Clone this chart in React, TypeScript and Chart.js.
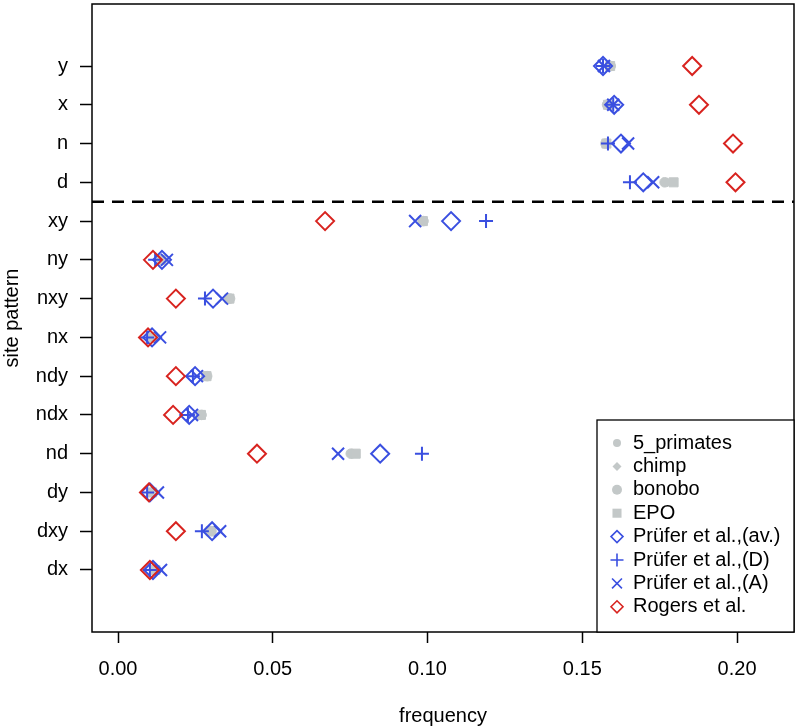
import React, { useEffect, useRef } from "react";
import { Chart, registerables } from "chart.js";

Chart.register(...registerables);

// categories from bottom (position 1) to top (position 14)
const categories = ["dx", "dxy", "dy", "nd", "ndx", "ndy", "nx", "nxy", "ny", "xy", "d", "n", "x", "y"];
const xTickValues = [0, 0.05, 0.1, 0.15, 0.2];
const xLimits = [-0.0084, 0.2184];
const yLimits = [-0.6, 15.6];
const dividerY = 10.5;

const primates5 = [0.0120, 0.0300, 0.0110, 0.0755, 0.0268, 0.0285, 0.0112, 0.0360, 0.0140, 0.0985, 0.1768, 0.1580, 0.1585, 0.1590];
const chimp = [0.0118, 0.0298, 0.0108, 0.0760, 0.0265, 0.0282, 0.0110, 0.0356, 0.0138, 0.0982, 0.1775, 0.1578, 0.1582, 0.1588];
const bonobo = [0.0122, 0.0302, 0.0112, 0.0752, 0.0270, 0.0288, 0.0113, 0.0362, 0.0142, 0.0987, 0.1766, 0.1575, 0.1580, 0.1592];
const epo = [0.0121, 0.0300, 0.0110, 0.0768, 0.0268, 0.0286, 0.0112, 0.0360, 0.0140, 0.0985, 0.1795, 0.1578, 0.1583, 0.1590];
const pruferAv = [0.0113, 0.0304, 0.0103, 0.0847, 0.0230, 0.0249, 0.0110, 0.0307, 0.0142, 0.1076, 0.1697, 0.1625, 0.1603, 0.1567];
const pruferD = [0.0103, 0.0271, 0.0094, 0.0982, 0.0226, 0.0242, 0.0094, 0.0281, 0.0120, 0.1189, 0.1654, 0.1583, 0.1600, 0.1567];
const pruferA = [0.0139, 0.0330, 0.0129, 0.0711, 0.0239, 0.0255, 0.0136, 0.0336, 0.0158, 0.0960, 0.1729, 0.1648, 0.1600, 0.1570];
const rogers = [0.0103, 0.0187, 0.0100, 0.0449, 0.0178, 0.0187, 0.0097, 0.0187, 0.0113, 0.0669, 0.1995, 0.1987, 0.1877, 0.1855];

const legendLabels = ["5_primates", "chimp", "bonobo", "EPO", "Prüfer et al.,(av.)", "Prüfer et al.,(D)", "Prüfer et al.,(A)", "Rogers et al."];

const GRAY = "#c3c8c8";
const BLUE = "#3a4fe0";
const RED = "#d8231f";
const FONT = "'Liberation Sans', Arial, Helvetica, sans-serif";

type Sym = { style: string; color: string; fill: boolean; r: number; lr: number; lw: number };
const symbols: Sym[] = [
  { style: "circle", color: GRAY, fill: true, r: 4, lr: 4, lw: 1 },
  { style: "rectRot", color: GRAY, fill: true, r: 4.5, lr: 4.5, lw: 1 },
  { style: "circle", color: GRAY, fill: true, r: 4.8, lr: 5, lw: 1 },
  { style: "rect", color: GRAY, fill: true, r: 6.4, lr: 6.4, lw: 1 },
  { style: "rectRot", color: BLUE, fill: false, r: 9, lr: 6, lw: 2 },
  { style: "cross", color: BLUE, fill: false, r: 7, lr: 6.5, lw: 2 },
  { style: "crossRot", color: BLUE, fill: false, r: 8.5, lr: 7, lw: 2 },
  { style: "rectRot", color: RED, fill: false, r: 9, lr: 6, lw: 2 },
];
const seriesValues = [primates5, chimp, bonobo, epo, pruferAv, pruferD, pruferA, rogers];
const drawOrder = [7, 6, 5, 4, 3, 2, 1, 0];

function drawSymbol(ctx: CanvasRenderingContext2D, s: Sym, x: number, y: number) {
  const r = s.lr;
  ctx.save();
  ctx.fillStyle = s.color;
  ctx.strokeStyle = s.color;
  ctx.lineWidth = s.fill ? 1 : 1.6;
  ctx.beginPath();
  if (s.style === "circle") {
    ctx.arc(x, y, r, 0, Math.PI * 2);
  } else if (s.style === "rect") {
    const h = r * Math.SQRT1_2;
    ctx.rect(x - h, y - h, 2 * h, 2 * h);
  } else if (s.style === "rectRot") {
    ctx.moveTo(x - r, y);
    ctx.lineTo(x, y - r);
    ctx.lineTo(x + r, y);
    ctx.lineTo(x, y + r);
    ctx.closePath();
  } else if (s.style === "cross") {
    ctx.moveTo(x - r, y);
    ctx.lineTo(x + r, y);
    ctx.moveTo(x, y - r);
    ctx.lineTo(x, y + r);
  } else if (s.style === "crossRot") {
    const h = r * Math.SQRT1_2;
    ctx.moveTo(x - h, y - h);
    ctx.lineTo(x + h, y + h);
    ctx.moveTo(x - h, y + h);
    ctx.lineTo(x + h, y - h);
  }
  if (s.fill) ctx.fill();
  else ctx.stroke();
  ctx.restore();
}

const boxPlugin = {
  id: "plotBox",
  afterDraw(chart: any) {
    const { ctx, chartArea: a } = chart;
    ctx.save();
    ctx.strokeStyle = "#000";
    ctx.lineWidth = 1.5;
    ctx.strokeRect(a.left, a.top, a.right - a.left, a.bottom - a.top);
    // legend
    const lx = a.right - 197;
    const ly = a.bottom - 212;
    ctx.fillStyle = "#fff";
    ctx.fillRect(lx, ly, a.right - lx, a.bottom - ly);
    ctx.lineWidth = 1.3;
    ctx.strokeRect(lx, ly, a.right - lx, a.bottom - ly);
    legendLabels.forEach((label, i) => {
      const cy = ly + 23 + i * 23.4;
      drawSymbol(ctx, symbols[i], lx + 20, cy);
      ctx.fillStyle = "#000";
      ctx.font = `20px ${FONT}`;
      ctx.textBaseline = "middle";
      ctx.textAlign = "left";
      ctx.fillText(label, lx + 36, cy);
    });
    ctx.restore();
  },
};

export default function App() {
  const ref = useRef<HTMLCanvasElement | null>(null);

  useEffect(() => {
    if (!ref.current) return;
    const datasets: any[] = seriesValues.map((vals, i) => ({
      label: legendLabels[i],
      data: vals.map((v, j) => ({ x: v, y: j + 1 })),
      pointStyle: symbols[i].style,
      pointRadius: symbols[i].r,
      pointBorderWidth: symbols[i].lw,
      pointBorderColor: symbols[i].color,
      pointBackgroundColor: symbols[i].fill ? symbols[i].color : "rgba(0,0,0,0)",
      showLine: false,
      order: drawOrder[i],
    }));
    datasets.push({
      label: "divider",
      type: "line",
      data: [
        { x: xLimits[0], y: dividerY },
        { x: xLimits[1], y: dividerY },
      ],
      borderColor: "#000",
      borderWidth: 2.5,
      borderDash: [12, 8],
      pointRadius: 0,
      showLine: true,
      order: 0,
    });

    const chart = new Chart(ref.current, {
      type: "scatter",
      data: { datasets },
      options: {
        animation: false,
        responsive: false,
        devicePixelRatio: 1,
        layout: { autoPadding: false, padding: { left: 0, right: 2, top: 4, bottom: 0 } },
        plugins: { legend: { display: false }, tooltip: { enabled: false } },
        scales: {
          x: {
            type: "linear",
            min: xLimits[0],
            max: xLimits[1],
            afterBuildTicks: (scale: any) => {
              scale.ticks = xTickValues.map((v) => ({ value: v }));
            },
            afterFit: (scale: any) => {
              scale.height = 96;
              scale.paddingLeft = 0;
              scale.paddingRight = 0;
            },
            ticks: {
              autoSkip: false,
              maxRotation: 0,
              padding: 14,
              color: "#000",
              font: { family: FONT, size: 20 },
              callback: (v: any) => Number(v).toFixed(2),
            },
            grid: { drawOnChartArea: false, drawTicks: true, tickLength: 11, tickColor: "#000", tickWidth: 1.5 },
            border: { display: false },
            title: {
              display: true,
              text: "frequency",
              color: "#000",
              font: { family: FONT, size: 20 },
              padding: { top: 0, bottom: 0 },
            },
          },
          y: {
            type: "linear",
            min: yLimits[0],
            max: yLimits[1],
            afterBuildTicks: (scale: any) => {
              scale.ticks = categories.map((_, i) => ({ value: i + 1 }));
            },
            afterFit: (scale: any) => {
              scale.width = 92;
              scale.paddingTop = 0;
              scale.paddingBottom = 0;
            },
            ticks: {
              autoSkip: false,
              padding: 12,
              color: "#000",
              font: { family: FONT, size: 20 },
              callback: (v: any) => categories[Number(v) - 1] ?? "",
            },
            grid: { drawOnChartArea: false, drawTicks: true, tickLength: 12, tickColor: "#000", tickWidth: 1.5 },
            border: { display: false },
            title: {
              display: true,
              text: "site pattern",
              color: "#000",
              font: { family: FONT, size: 20 },
              padding: { top: 0, bottom: 0 },
            },
          },
        },
      },
      plugins: [boxPlugin],
    } as any);
    return () => chart.destroy();
  }, []);

  return (
    <div style={{ position: "absolute", left: 0, top: 0, width: 796, height: 728, background: "#fff" }}>
      <canvas ref={ref} width={796} height={728} style={{ width: 796, height: 728, display: "block" }} />
    </div>
  );
}
